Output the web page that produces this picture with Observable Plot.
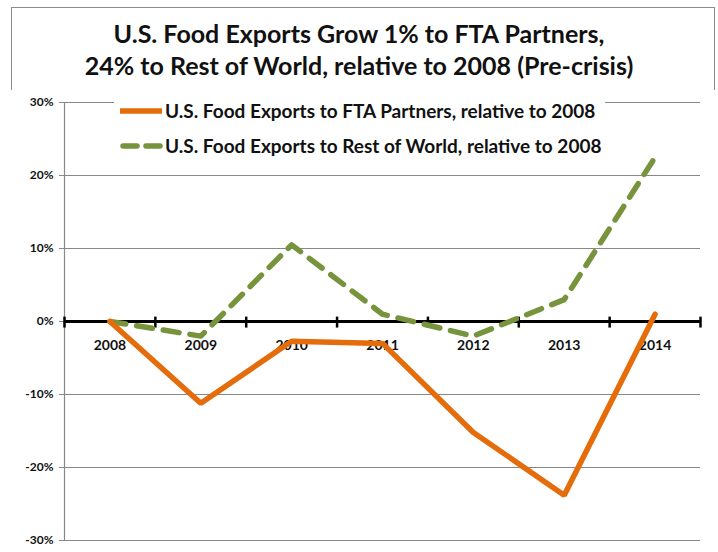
<!DOCTYPE html>
<html>
<head>
<meta charset="utf-8">
<script src="https://cdn.jsdelivr.net/npm/d3@7"></script>
<script src="https://cdn.jsdelivr.net/npm/@observablehq/plot@0.6"></script>
<style>
  html, body { margin: 0; padding: 0; background: #fff; }
  #wrap { position: relative; width: 718px; height: 552px; overflow: hidden; background: #fff; font-family: Lato, "Open Sans", sans-serif; }
  #frame { position: absolute; left: 11px; top: 7px; width: 704px; height: 600px; border: 1.5px solid #8c8c8c; box-sizing: border-box; }
  #title { position: absolute; left: 0; top: 17px; width: 718px; text-align: center; font-weight: bold; font-size: 25px; line-height: 32px; color: #111; }
  #chart { position: absolute; left: 0; top: 90px; }
  #legend { position: absolute; left: 114px; top: 93px; background: #fff; padding: 0 4px; }
  .row { display: flex; align-items: center; height: 35px; font-size: 19px; font-weight: bold; color: #111; white-space: nowrap; }
  .row svg { margin-right: 1px; }
</style>
</head>
<body>
<div id="wrap">
  <div id="frame"></div>
  <div id="title">U.S. Food Exports Grow 1% to FTA Partners,<br>24% to Rest of World, relative to 2008 (Pre-crisis)</div>
  <div id="chart"></div>
  <div id="legend"></div>
</div>
<script>
const years = [2008, 2009, 2010, 2011, 2012, 2013, 2014];
const ftaValues = [0, -0.112, -0.027, -0.030, -0.152, -0.238, 0.010];
const rowValues = [0, -0.020, 0.105, 0.010, -0.020, 0.030, 0.225];
const yTicks = [-0.3, -0.2, -0.1, 0, 0.1, 0.2, 0.3];
const seriesNames = [
  "U.S. Food Exports to FTA Partners, relative to 2008",
  "U.S. Food Exports to Rest of World, relative to 2008"
];
const colors = ["#E46C0A", "#77933C"];

const fta = years.map((y, i) => ({year: y, value: ftaValues[i]}));
const row = years.map((y, i) => ({year: y, value: rowValues[i]}));
const boundaries = years.map(y => y - 0.5).concat([years[years.length - 1] + 0.5]);

const chart = Plot.plot({
  width: 718,
  height: 462,
  marginTop: 12,
  marginBottom: 12,
  marginLeft: 64,
  marginRight: 18,
  x: {type: "linear", domain: [2007.5, 2014.5], axis: null},
  y: {domain: [-0.3, 0.3], label: null},
  style: {fontFamily: "Lato, 'Open Sans', sans-serif", background: "#fff"},
  marks: [
    Plot.gridY(yTicks.filter(d => d !== 0), {stroke: "#888", strokeOpacity: 1, strokeWidth: 1.2}),
    Plot.axisY({ticks: yTicks, label: null, tickFormat: d => Math.round(d * 100) + "%", tickSize: 5, tickPadding: 6, fontSize: 12, fontWeight: "bold", stroke: "#888", fill: "#111"}),
    Plot.ruleX([2007.5], {stroke: "#888", strokeWidth: 1.2}),
    Plot.ruleY([0], {stroke: "#000", strokeWidth: 3}),
    Plot.ruleX(boundaries, {x: d => d, y1: 0.006, y2: -0.009, stroke: "#000", strokeWidth: 2.5}),
    Plot.text(years, {x: d => d, y: 0, text: d => String(d), dy: 24, fontSize: 14, fontWeight: "bold", fill: "#111"}),
    Plot.line(row, {x: "year", y: "value", stroke: colors[1], strokeWidth: 5.5, strokeDasharray: "16,11", strokeLinecap: "round"}),
    Plot.line(fta, {x: "year", y: "value", stroke: colors[0], strokeWidth: 5.5, strokeLinejoin: "miter"})
  ]
});
document.getElementById("chart").appendChild(chart);

const legend = document.getElementById("legend");
seriesNames.forEach((name, i) => {
  const r = document.createElement("div");
  r.className = "row";
  const dash = i === 1 ? 'stroke-dasharray="14,9" stroke-linecap="round"' : '';
  r.innerHTML = `<svg width="46" height="10"><line x1="${i===1?5:2}" y1="5" x2="44" y2="5" stroke="${colors[i]}" stroke-width="5.5" ${dash}/></svg><span>${name}</span>`;
  legend.appendChild(r);
});
</script>
</body>
</html>
